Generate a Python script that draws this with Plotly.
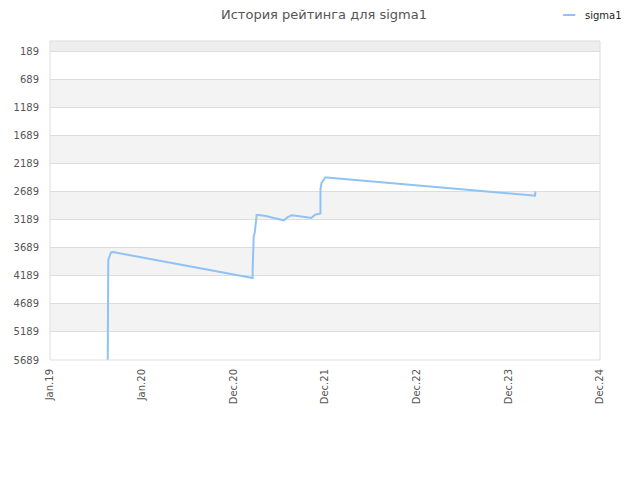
import plotly.graph_objects as go

title_text = "История рейтинга для sigma1"
series_name = "sigma1"

dates = [
    "2019-08-19", "2019-08-19", "2019-08-21", "2019-08-21", "2019-08-28", "2019-09-01", "2019-09-08",
    "2021-03-14", "2021-03-18", "2021-03-18", "2021-03-22", "2021-03-26", "2021-03-30", "2021-04-03",
    "2021-04-09", "2021-05-10", "2021-06-10", "2021-07-20", "2021-08-05", "2021-08-20", "2021-09-14",
    "2021-11-07", "2021-11-21", "2021-12-08", "2021-12-13", "2021-12-13", "2021-12-17", "2021-12-23",
    "2022-01-01", "2022-01-07", "2024-04-15", "2024-04-17",
]
ranks = [
    5689, 5084, 5084, 3909, 3820, 3772, 3767,
    4217, 4230, 4075, 3494, 3429, 3251, 3108,
    3108, 3126, 3162, 3203, 3144, 3114, 3126,
    3162, 3103, 3082, 3082, 2651, 2539, 2498,
    2441, 2441, 2765, 2686,
]

ytick_vals = [189, 689, 1189, 1689, 2189, 2689, 3189, 3689, 4189, 4689, 5189, 5689]
y_top = 11
xtick_vals = ["2019-01-01", "2020-01-01", "2020-12-31", "2021-12-31", "2022-12-31", "2023-12-31", "2024-12-30"]
xtick_text = ["Jan.19", "Jan.20", "Dec.20", "Dec.21", "Dec.22", "Dec.23", "Dec.24"]

line_color = "#90c2f4"

fig = go.Figure()
fig.add_trace(go.Scatter(
    x=dates, y=ranks, mode="lines", name=series_name,
    line=dict(color=line_color, width=2), showlegend=False,
))

shapes = []
shapes.append(dict(type="rect", xref="paper", yref="y", x0=0, x1=1, y0=y_top, y1=ytick_vals[0],
                   fillcolor="#eeeeee", line=dict(width=0), layer="below"))
for i in range(len(ytick_vals) - 1):
    if i % 2 == 1:
        shapes.append(dict(type="rect", xref="paper", yref="y", x0=0, x1=1,
                           y0=ytick_vals[i], y1=ytick_vals[i + 1],
                           fillcolor="#f3f3f3", line=dict(width=0), layer="below"))
shapes.append(dict(type="rect", xref="paper", yref="paper", x0=0, x1=1, y0=0, y1=1,
                   fillcolor="rgba(0,0,0,0)", line=dict(color="#dddddd", width=1), layer="above"))
# custom legend marker
shapes.append(dict(type="line", xref="paper", yref="paper", x0=0.933, x1=0.955, y0=1.0815, y1=1.0815,
                   line=dict(color=line_color, width=2)))

fig.update_layout(
    width=632, height=472,
    margin=dict(l=42, r=40, t=33, b=120, autoexpand=False),
    paper_bgcolor="white", plot_bgcolor="white",
    font=dict(family="DejaVu Sans", color="#555555", size=10),
    title=dict(text=title_text, x=0.5, xanchor="center", y=0.996, yanchor="top",
               pad=dict(t=0, b=0, l=0, r=0),
               font=dict(size=13, color="#555555")),
    shapes=shapes,
    showlegend=False,
    annotations=[dict(text=series_name, xref="paper", yref="paper", x=0.969, y=1.0815,
                      xanchor="left", yanchor="middle", showarrow=False,
                      font=dict(size=10, color="#222222"))],
    xaxis=dict(range=[xtick_vals[0], xtick_vals[-1]], tickmode="array", tickvals=xtick_vals,
               ticktext=xtick_text, tickangle=-90, showgrid=False, zeroline=False,
               ticks="outside", ticklen=4, tickcolor="rgba(0,0,0,0)", showline=False,
               automargin=False, tickfont=dict(size=10, color="#555555")),
    yaxis=dict(range=[ytick_vals[-1], y_top], tickmode="array", tickvals=ytick_vals,
               showgrid=True, gridcolor="#dddddd", gridwidth=1, zeroline=False,
               ticks="outside", ticklen=8, tickcolor="rgba(0,0,0,0)", showline=False,
               automargin=False, tickfont=dict(size=10, color="#555555")),
)

fig.write_html("out.html")
